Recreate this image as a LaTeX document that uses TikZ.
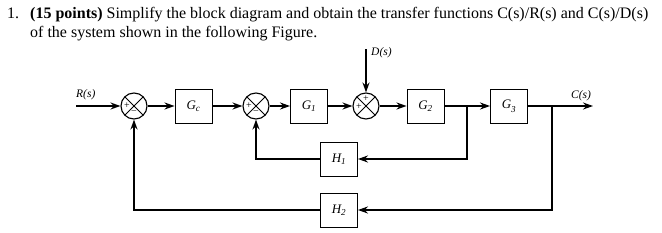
\documentclass[tikz,border=0pt]{standalone}
\usepackage{fontspec}
\setmainfont{Liberation Serif}
\usetikzlibrary{arrows.meta}
\begin{document}
\begin{tikzpicture}[x=1pt,y=-1pt,
  blk/.style={draw, line width=0.9pt, minimum width=37pt, minimum height=34pt, inner sep=0pt, font=\fontsize{13}{13}\selectfont\itshape},
  sumj/.style={draw, circle, line width=1.1pt, minimum size=26pt, inner sep=0pt,
    path picture={\draw[line width=0.8pt] (path picture bounding box.north west) -- (path picture bounding box.south east)
      (path picture bounding box.north east) -- (path picture bounding box.south west);}},
  sig/.style={line width=1.9pt, -{Stealth[length=10pt,width=7pt]}},
  lbl/.style={font=\fontsize{11.5}{11.5}\selectfont\itshape, inner sep=0pt, anchor=base west},
  sgn/.style={font=\fontsize{10}{10}\selectfont, inner sep=0pt},
  ttl/.style={font=\fontsize{16}{16}\selectfont, inner sep=0pt, anchor=base west}
]
\useasboundingbox (0,0) rectangle (662,233);
% title
\node[ttl] (n1) at (7,18) {1.};
\node[ttl] (t1) at (30,18) {\textbf{(15 points)} Simplify the block diagram and obtain the transfer functions C(s)/R(s) and C(s)/D(s)};
\node[ttl] (t2) at (30,37) {of the system shown in the following Figure.};
% blocks
\node[sumj] (s1) at (134,106) {};
\node[blk] (gc) at (193.5,106) {G\textsubscript{c}};
\node[sumj] (s2) at (256,106) {};
\node[blk] (g1) at (309,106) {G\textsubscript{1}};
\node[sumj] (s3) at (366,106) {};
\node[blk] (g2) at (425.5,106) {G\textsubscript{2}};
\node[blk] (g3) at (509,106) {G\raisebox{-2.5pt}{\textsubscript{3}}};
\node[blk] (h1) at (339,159) {H\textsubscript{1}};
\node[blk] (h2) at (339,210) {H\textsubscript{2}};
% signs
\node[sgn] (p1) at (127,106) {+};
\node[sgn] (m1) at (134,113) {\textminus};
\node[sgn] (p2) at (249,106) {+};
\node[sgn] (m2) at (256,113) {\textminus};
\node[sgn] (p3) at (366,99) {+};
\node[sgn] (p4) at (359,107) {+};
% terminals
\coordinate (rin) at (76,106);
\coordinate (cout) at (593,106);
\coordinate (din) at (366,49);
\coordinate (b1) at (467,106);
\coordinate (b2) at (552,106);
% labels
\node[lbl] (lr) at (76,97) {R(s)};
\node[lbl] (lc) at (571,98) {C(s)};
\node[lbl] (ld) at (371,56) {D(s)};
% connectors
\draw[sig] (rin) -- (s1);
\draw[sig] (s1) -- (gc);
\draw[sig] (gc) -- (s2);
\draw[sig] (s2) -- (g1);
\draw[sig] (g1) -- (s3);
\draw[sig] (din) -- (s3);
\draw[sig] (s3) -- (g2);
\draw[sig] (g2) -- (g3);
\draw[sig] (g3) -- (cout);
\draw[sig] (b1) |- (h1);
\draw[sig] (h1) -| (s2);
\draw[sig] (b2) |- (h2);
\draw[sig] (h2) -| (s1);
\end{tikzpicture}
\end{document}
